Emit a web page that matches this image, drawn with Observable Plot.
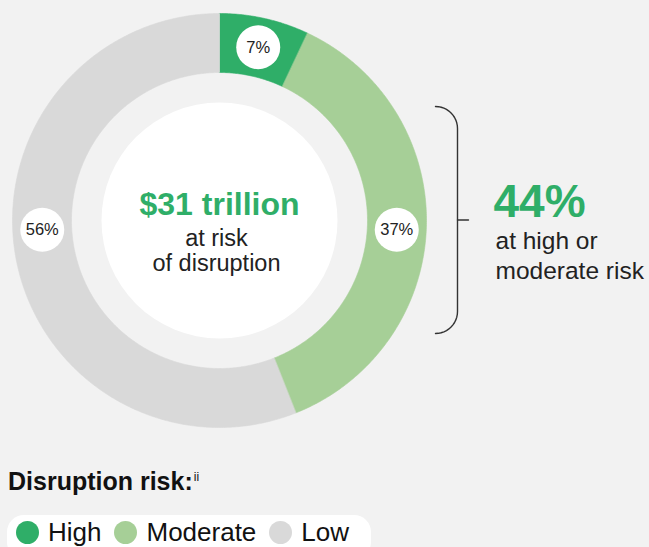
<!DOCTYPE html>
<html>
<head>
<meta charset="utf-8">
<script src="https://cdn.jsdelivr.net/npm/d3@7"></script>
<script src="https://cdn.jsdelivr.net/npm/@observablehq/plot@0.6"></script>
<style>
  html, body { margin: 0; padding: 0; background: #f2f2f2; }
  body { width: 649px; height: 547px; overflow: hidden; font-family: "Liberation Sans", Arial, Helvetica, sans-serif; color: #111; }
  #wrap { position: relative; width: 649px; height: 547px; }
  #chart svg { display: block; }
  #legend-title { position: absolute; left: 8px; top: 469px; font-size: 25px; line-height: 24px; font-weight: bold; color: #111; white-space: nowrap; }
  #legend-title sup { font-size: 12px; font-weight: normal; position: relative; top: -4px; vertical-align: top; margin-left: 1px; }
  #legend { position: absolute; left: 7px; top: 515px; height: 44px; padding: 0 22px 0 9px; background: #fff; border-radius: 17px; display: flex; align-items: flex-start; }
  .item { display: flex; align-items: center; height: 26px; margin-top: 4px; font-size: 26px; line-height: 26px; color: #111; white-space: nowrap; }
  .item .sw { width: 23px; height: 23px; border-radius: 50%; margin-right: 9px; flex: none; }
  .item + .item { margin-left: 13px; }
</style>
</head>
<body>
<div id="wrap">
  <div id="chart"></div>
  <div id="legend-title"></div>
  <div id="legend"></div>
</div>
<script>
// ---- data ----
const categories = ["High", "Moderate", "Low"];
const shares = [7, 37, 56];                 // percent of total
const colors = ["#2fae68", "#a6cf97", "#d9d9d9"];
const totalLabel = "$31 trillion";
const totalLines = ["at risk", "of disruption"];
const highModerateLabel = "44%";
const highModerateLines = ["at high or", "moderate risk"];
const legendTitle = "Disruption risk:";
const legendNote = "ii";

// ---- layout ----
const W = 649, H = 450;
const cx = 219, cy = 220, R = 207, r0 = 148, rWhite = 118;
const rLabel = (R + r0) / 2;
const labelNudge = 3; // degrees below the horizontal for side labels
const green = colors[0];

const rad = d => d * Math.PI / 180;
const px = (r, a) => cx + r * Math.sin(rad(a));
const py = (r, a) => cy - r * Math.cos(rad(a));

// arc polygons computed from the shares
const total = d3.sum(shares);
const arcPts = [];
const labels = [];
let acc = 0;
categories.forEach((c, i) => {
  const a0 = acc / total * 360, a1 = (acc + shares[i]) / total * 360;
  acc += shares[i];
  const n = Math.max(8, Math.ceil((a1 - a0) * 2));
  for (let k = 0; k <= n; k++) { const a = a0 + (a1 - a0) * k / n; arcPts.push({risk: c, x: px(R, a), y: py(R, a)}); }
  for (let k = n; k >= 0; k--) { const a = a0 + (a1 - a0) * k / n; arcPts.push({risk: c, x: px(r0, a), y: py(r0, a)}); }
  let la;
  if (a0 <= 90 && a1 >= 90) la = 90 + labelNudge;
  else if (a0 <= 270 && a1 >= 270) la = 270 - labelNudge;
  else la = (a0 + a1) / 2;
  labels.push({risk: c, x: px(rLabel, la), y: py(rLabel, la), text: shares[i] + "%"});
});

// bracket
const bx = 457, bTop = 106, bBot = 333, br = 22, tick = 11;
const bracket = [];
for (let k = 0; k <= 12; k++) { const a = -90 + 90 * k / 12; bracket.push({x: bx - br + br * Math.cos(rad(a)), y: bTop + br + br * Math.sin(rad(a))}); }
for (let k = 0; k <= 12; k++) { const a = 90 * k / 12; bracket.push({x: bx - br + br * Math.cos(rad(a)), y: bBot - br + br * Math.sin(rad(a))}); }
const bMid = (bTop + bBot) / 2;

const textX = 495;

const plot = Plot.plot({
  width: W, height: H, margin: 0,
  x: {type: "linear", domain: [0, W], range: [0, W], axis: null},
  y: {type: "linear", domain: [0, H], range: [0, H], axis: null},
  color: {domain: categories, range: colors},
  style: {background: "transparent", fontFamily: "'Liberation Sans', Arial, Helvetica, sans-serif", overflow: "visible"},
  marks: [
    Plot.line(arcPts, {x: "x", y: "y", z: "risk", fill: "risk", stroke: "risk", strokeWidth: 0.6, curve: "linear-closed"}),
    Plot.dot([{x: cx, y: cy}], {x: "x", y: "y", r: rWhite, fill: "white", stroke: null}),
    Plot.dot(labels, {x: "x", y: "y", r: 22, fill: "white", stroke: null}),
    Plot.text(labels, {x: "x", y: "y", text: "text", fontSize: 16.5, fill: "#222"}),
    Plot.text([totalLabel], {x: () => cx, y: () => 214, text: d => d, lineAnchor: "bottom", fontSize: 32, fontWeight: "bold", fill: green}),
    Plot.text(totalLines, {x: () => cx - 3, y: (d, i) => 245 + i * 25, text: d => d, lineAnchor: "bottom", fontSize: 23.5, fill: "#222"}),
    Plot.line(bracket, {x: "x", y: "y", stroke: "#333", strokeWidth: 1.4, curve: "linear"}),
    Plot.line([{x: bx, y: bMid}, {x: bx + tick, y: bMid}], {x: "x", y: "y", stroke: "#333", strokeWidth: 1.4}),
    Plot.text([highModerateLabel], {x: () => textX - 2, y: () => 216, text: d => d, lineAnchor: "bottom", textAnchor: "start", fontSize: 46, fontWeight: "bold", fill: green}),
    Plot.text(highModerateLines, {x: () => textX, y: (d, i) => 248 + i * 30, text: d => d, lineAnchor: "bottom", textAnchor: "start", fontSize: 24.5, fill: "#222"})
  ]
});
document.getElementById("chart").appendChild(plot);

// legend
const lt = document.getElementById("legend-title");
lt.textContent = legendTitle;
const sup = document.createElement("sup");
sup.textContent = legendNote;
lt.appendChild(sup);

const lg = document.getElementById("legend");
categories.forEach((c, i) => {
  const it = document.createElement("div");
  it.className = "item";
  const sw = document.createElement("span");
  sw.className = "sw";
  sw.style.background = colors[i];
  it.appendChild(sw);
  it.appendChild(document.createTextNode(c));
  lg.appendChild(it);
});
</script>
</body>
</html>
